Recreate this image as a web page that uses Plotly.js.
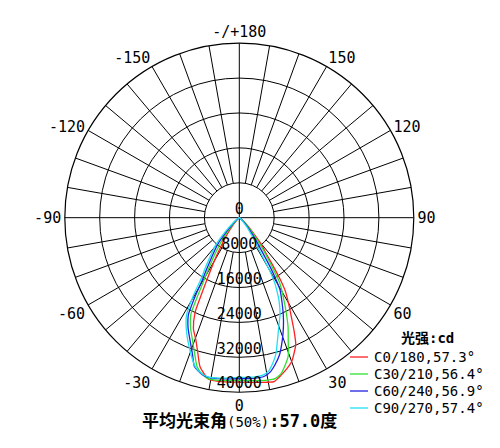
<!DOCTYPE html>
<html>
<head>
<meta charset="utf-8">
<script src="https://cdn.plot.ly/plotly-3.0.1.min.js"></script>
<style>
  body { margin: 0; background: #fff; }
  #chart { width: 500px; height: 448px; }
</style>
</head>
<body>
<div id="chart"></div>
<script>
// radial rings and angle labels
var radialTicks = [0, 8000, 16000, 24000, 32000, 40000];
var angleTicks = [0, 30, 60, 90, 120, 150, 180, 210, 240, 270, 300, 330];
var angleLabels = ['0', '30', '60', '90', '120', '150', '-/+180', '-150', '-120', '-90', '-60', '-30'];

var seriesNames = ['C0/180,57.3°', 'C30/210,56.4°', 'C60/240,56.9°', 'C90/270,57.4°'];
var seriesColors = ['#ff2020', '#30e030', '#2020e0', '#20e0f0'];

// intensity (cd) vs angle, negative angles = opposite half plane
var c0Angles = [-55, -50, -45, -40, -36, -33, -30, -28, -27, -26, -25, -22.5, -19.6, -17, -14.8, -12.5, -10.8, -5, 0,
  5, 10, 12, 15, 17.5, 20, 24, 26, 28, 30, 32, 33.3, 35, 37, 39.5, 42, 46, 50, 55, 60];
var c0Values = [0, 300, 1000, 2500, 5000, 7400, 11500, 15000, 17500, 20500, 24000, 27500, 29700, 32500, 35300, 36800, 37700, 37800, 37700,
  37900, 38300, 38400, 37300, 36300, 35100, 31800, 28500, 25200, 22500, 20000, 17500, 13500, 10000, 8000, 5000, 2500, 1000, 300, 0];

var c30Angles = [-60, -55, -50, -45, -40, -36, -33, -30.5, -29, -28, -26.6, -24, -21, -18, -15.8, -13, -10.8, -5, 0,
  5, 10, 12.5, 15, 17, 19.4, 21.8, 24, 26, 28, 30.5, 32, 34, 36, 37.6, 40, 44, 48, 52, 57, 60];
var c30Values = [0, 300, 800, 1800, 4500, 7750, 11000, 14500, 17500, 20500, 24800, 27500, 30000, 33000, 35500, 37000, 37600, 37500, 37300,
  37500, 37800, 37800, 37000, 35600, 33700, 30200, 27500, 24700, 22000, 19100, 17300, 13000, 10000, 7900, 5500, 3000, 1500, 600, 100, 0];

var c60Angles = [-62, -57, -52, -47, -43, -38.9, -35, -32, -30.5, -29.5, -28.5, -27.7, -25, -22, -19, -16.8, -13.5, -10.9, -5, 0,
  5, 9, 11.5, 13.5, 16.3, 19.4, 22, 24.4, 27, 29.5, 30.5, 32, 34.8, 38, 42, 46, 50, 55, 58];
var c60Values = [0, 200, 700, 1800, 4000, 8000, 11000, 14500, 17000, 20000, 23000, 25100, 27800, 30200, 33000, 35600, 36900, 37300, 37100, 36900,
  37000, 36800, 36000, 34800, 32800, 29700, 27000, 24400, 21500, 18900, 16900, 13500, 8000, 5000, 2800, 1300, 500, 100, 0];

var c90Angles = [-65, -60, -55, -50, -45, -40.8, -37, -34, -32, -31, -30, -28.5, -26, -22.9, -19.5, -16.5, -13.5, -10.9, -5, 0,
  5, 8.5, 11, 13, 15, 17, 20, 22.8, 25.5, 27.4, 28.7, 30, 31.9, 35, 39, 43, 48, 53];
var c90Values = [0, 200, 700, 1800, 4500, 8300, 11000, 14000, 16500, 19300, 22000, 25300, 27800, 30400, 33200, 35600, 36800, 37200, 36900, 36600,
  36700, 36500, 35700, 34200, 32400, 29800, 26500, 24100, 21200, 18600, 16700, 13500, 8000, 5000, 2800, 1300, 400, 0];

var seriesAngles = [c0Angles, c30Angles, c60Angles, c90Angles];
var seriesValues = [c0Values, c30Values, c60Values, c90Values];

// spokes every 10 deg, outside the centre disc except the two main axes
var spokeR = [];
var spokeT = [];
for (var a = 0; a < 360; a += 10) {
  spokeR.push(a % 90 === 0 ? 0 : radialTicks[1], radialTicks[radialTicks.length - 1], null);
  spokeT.push(a, a, null);
}

var traces = [{
  type: 'scatterpolar',
  mode: 'lines',
  r: spokeR,
  theta: spokeT,
  line: { color: 'black', width: 1 },
  connectgaps: false,
  hoverinfo: 'skip',
  showlegend: false
}];

seriesNames.forEach(function (name, i) {
  traces.push({
    type: 'scatterpolar',
    mode: 'lines',
    name: name,
    r: seriesValues[i],
    theta: seriesAngles[i],
    line: { color: seriesColors[i], width: 1.3, shape: 'spline', smoothing: 0.6 },
    showlegend: false
  });
});

traces.push({
  type: 'scatterpolar',
  mode: 'text',
  r: radialTicks,
  theta: radialTicks.map(function () { return 0; }),
  text: radialTicks.map(String),
  textposition: 'top center',
  textfont: { family: 'DejaVu Sans Mono', size: 15, color: 'black' },
  hoverinfo: 'skip',
  showlegend: false
});

// hand-placed legend like the original (short line samples, tight rows)
var W = 500, H = 448;
var shapes = [];
var annotations = [{
  xref: 'paper', yref: 'paper',
  x: 427 / W, y: 1 - 338 / H,
  xanchor: 'center', yanchor: 'middle',
  showarrow: false,
  text: '<b>光强:cd</b>',
  font: { family: 'DejaVu Sans Mono, Noto Sans CJK SC', size: 14, color: 'black' }
}];
seriesNames.forEach(function (name, i) {
  var yy = 1 - (357 + i * 17) / H;
  shapes.push({
    type: 'line', xref: 'paper', yref: 'paper',
    x0: 350 / W, x1: 368 / W, y0: yy, y1: yy,
    line: { color: seriesColors[i], width: 1.3 }
  });
  annotations.push({
    xref: 'paper', yref: 'paper',
    x: 372 / W, y: yy,
    xanchor: 'left', yanchor: 'middle',
    showarrow: false,
    text: name,
    font: { family: 'DejaVu Sans Mono', size: 14, color: 'black' }
  });
});

annotations.push({
  xref: 'paper', yref: 'paper',
  x: 239 / W, y: 1 - 421 / H,
  xanchor: 'center', yanchor: 'middle',
  showarrow: false,
  text: '<b>平均光束角</b><span style="font-size:14px">(50%)</span><b>:57.0度</b>',
  font: { family: 'DejaVu Sans Mono, Noto Sans CJK SC', size: 17, color: 'black' }
});

var layout = {
  width: W,
  height: H,
  margin: { l: 0, r: 0, t: 0, b: 0 },
  paper_bgcolor: 'white',
  showlegend: false,
  font: { family: 'DejaVu Sans Mono', color: 'black' },
  polar: {
    domain: { x: [0.1296, 0.8276], y: [0.1246, 0.9036] },
    bgcolor: 'white',
    radialaxis: {
      range: [0, 40000],
      tickvals: radialTicks.slice(1),
      showticklabels: false,
      ticks: '',
      showline: false,
      gridcolor: 'black',
      gridwidth: 1
    },
    angularaxis: {
      rotation: -90,
      direction: 'counterclockwise',
      tickvals: angleTicks,
      ticktext: angleLabels,
      showgrid: false,
      showline: true,
      linecolor: 'black',
      linewidth: 1.2,
      ticks: '',
      tickfont: { family: 'DejaVu Sans Mono', size: 15, color: 'black' }
    }
  },
  shapes: shapes,
  annotations: annotations
};

Plotly.newPlot('chart', traces, layout, { displayModeBar: false, staticPlot: true });
</script>
</body>
</html>
